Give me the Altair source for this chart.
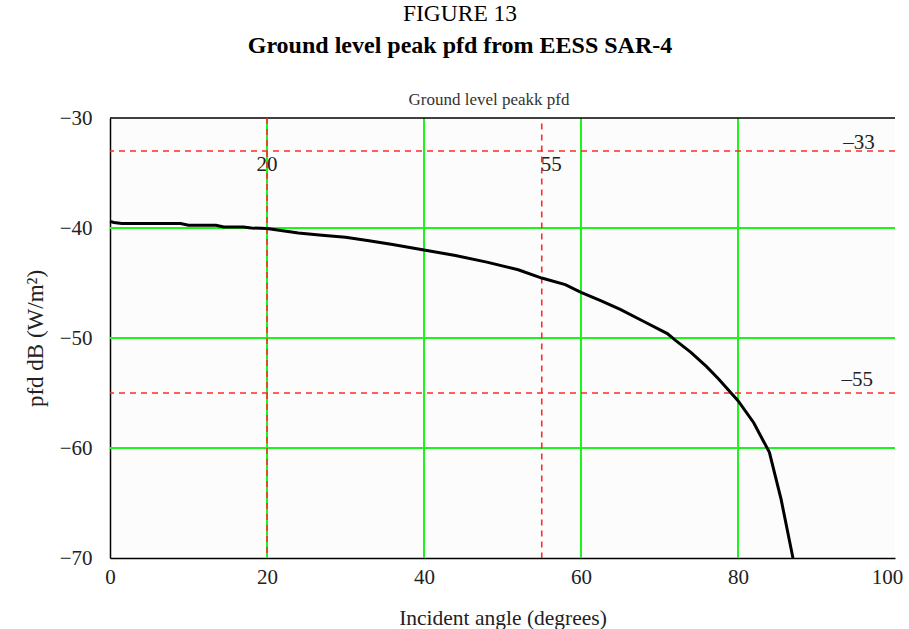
import altair as alt
import pandas as pd

# Ground level peak pfd versus incident angle
angle_deg = [0, 0.5, 1.5, 9, 10, 13.5, 14.5, 17, 18, 20, 22, 24, 27, 30, 33, 36,
             40, 44, 48, 52, 55, 58, 60, 62.5, 65, 68, 71, 72, 74, 76, 77.5, 80,
             82, 84, 85.5, 87]
pfd_db = [-39.4, -39.5, -39.6, -39.6, -39.75, -39.75, -39.9, -39.9, -40.0, -40.05,
          -40.25, -40.45, -40.65, -40.85, -41.15, -41.5, -42.0, -42.5, -43.1,
          -43.8, -44.55, -45.15, -45.85, -46.6, -47.4, -48.5, -49.6, -50.2, -51.3,
          -52.6, -53.7, -55.7, -57.7, -60.4, -64.7, -70.0]

# Reference limits (dashed red)
ref_angles = [20, 55]
ref_levels = [-33, -55]

# Grid positions (green)
grid_x = [20, 40, 60, 80]
grid_y = [-40, -50, -60]

x_ticks = [0, 20, 40, 60, 80, 100]
y_ticks = [-30, -40, -50, -60, -70]

SERIF = "Liberation Serif"
W, H = 785, 440
GREEN = "#1cf51c"
RED = "#ff2a2a"

xs = alt.Scale(domain=[0, 100], nice=False, zero=False)
ys = alt.Scale(domain=[-70, -30], nice=False, zero=False)

curve_df = pd.DataFrame({"angle": angle_deg, "pfd": pfd_db})

curve = alt.Chart(curve_df).mark_line(color="black", strokeWidth=3).encode(
    x=alt.X("angle:Q", scale=xs,
            axis=alt.Axis(values=x_ticks, title="Incident angle (degrees)",
                          labelFont=SERIF, labelFontSize=21, labelColor="#222",
                          titleFont=SERIF, titleFontSize=21.5, titleFontWeight="normal",
                          titleColor="#222", titlePadding=20, labelPadding=8,
                          ticks=False, grid=False, domainColor="black",
                          domainWidth=1.5, labelFlush=False,
                          labelOffset={"condition": {"test": "datum.value == 100",
                                                     "value": -8},
                                       "value": 0})),
    y=alt.Y("pfd:Q", scale=ys,
            axis=alt.Axis(values=y_ticks, title="pfd dB (W/m²)",
                          labelFont=SERIF, labelFontSize=21, labelColor="#222",
                          titleFont=SERIF, titleFontSize=23, titleFontWeight="normal",
                          titleColor="#222", titlePadding=12, labelPadding=18,
                          ticks=False, grid=False, domainColor="black",
                          domainWidth=1.5, labelFlush=False)),
)

gx = alt.Chart(pd.DataFrame({"gx": grid_x})).mark_rule(
    color=GREEN, strokeWidth=2).encode(x=alt.X("gx:Q", scale=xs))
gy = alt.Chart(pd.DataFrame({"gy": grid_y})).mark_rule(
    color=GREEN, strokeWidth=2).encode(y=alt.Y("gy:Q", scale=ys))

top_border = alt.Chart(pd.DataFrame({"t": [-30]})).mark_rule(
    color="black", strokeWidth=1.5).encode(y=alt.Y("t:Q", scale=ys))

# vertical limits run from the top (55 stops just short of it) to the bottom
rx_df = pd.DataFrame({"rx": ref_angles, "top": [-30, -30.5], "bot": [-70, -70]})
rx = alt.Chart(rx_df).mark_rule(
    color=RED, strokeWidth=1.6, strokeDash=[6, 5]).encode(
    x=alt.X("rx:Q", scale=xs), y=alt.Y("top:Q", scale=ys), y2="bot:Q")
ry = alt.Chart(pd.DataFrame({"ry": ref_levels})).mark_rule(
    color=RED, strokeWidth=1.6, strokeDash=[6, 5]).encode(
    y=alt.Y("ry:Q", scale=ys))

# Value labels for the reference lines
vx_df = pd.DataFrame({"rx": ref_angles, "txt": [str(v) for v in ref_angles],
                      "lx": [20, 56.2], "ly": [-34.3, -34.3]})
vx_lab = alt.Chart(vx_df).mark_text(font=SERIF, fontSize=21, color="#222").encode(
    x=alt.X("lx:Q", scale=xs), y=alt.Y("ly:Q", scale=ys), text="txt:N")

vy_df = pd.DataFrame({"ry": ref_levels,
                      "txt": ["–" + str(abs(v)) for v in ref_levels],
                      "lx": [95.4, 95.2], "ly": [-32.3, -53.8]})
vy_lab = alt.Chart(vy_df).mark_text(font=SERIF, fontSize=21, color="#222").encode(
    x=alt.X("lx:Q", scale=xs), y=alt.Y("ly:Q", scale=ys), text="txt:N")

# Figure heading lines
head1 = alt.Chart(pd.DataFrame({"txt": ["FIGURE 13"]})).mark_text(
    font=SERIF, fontSize=23.5, color="black").encode(
    text="txt:N", x=alt.value(350), y=alt.value(-104))
head2 = alt.Chart(pd.DataFrame({"txt": ["Ground level peak pfd from EESS SAR-4"]})).mark_text(
    font=SERIF, fontSize=24, fontWeight="bold", color="black").encode(
    text="txt:N", x=alt.value(350), y=alt.value(-72))
sub = alt.Chart(pd.DataFrame({"txt": ["Ground level peakk pfd"]})).mark_text(
    font=SERIF, fontSize=17, color="#333").encode(
    text="txt:N", x=alt.value(379), y=alt.value(-18))

chart = alt.layer(
    gx, gy, top_border, rx, ry, curve, vx_lab, vy_lab, head1, head2, sub
).properties(
    width=W, height=H,
    autosize=alt.AutoSizeParams(type="none"),
    padding={"left": 110, "top": 118, "right": 14, "bottom": 71},
    background="white",
).configure_view(
    fill="#fcfcfc", stroke=None
)

chart.save("out.html", embed_options={"renderer": "svg", "actions": False})
